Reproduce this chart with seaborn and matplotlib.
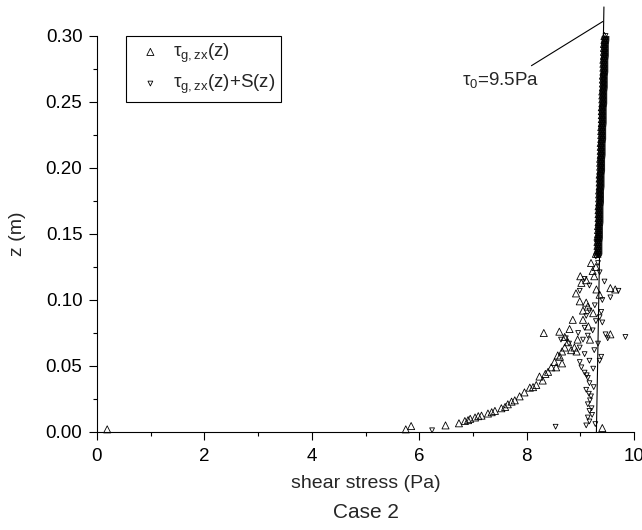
import numpy as np
import pandas as pd
import matplotlib
matplotlib.use("Agg")
import matplotlib.pyplot as plt
import seaborn as sns

# ---- data ----
# tau_g,zx(z): scattered part
up_x = [0.19, 5.75, 5.85, 6.49, 6.74, 6.85, 6.91, 7.04, 7.16, 7.28, 7.41, 7.53, 7.65,
        7.78, 7.87, 7.96, 8.06, 8.18, 8.24, 8.30, 8.40, 8.46, 8.52, 8.62, 8.66, 8.71,
        8.77, 8.32, 8.61, 8.71, 8.83, 8.89, 8.93, 8.66, 8.55, 8.86, 9.05, 8.99, 9.11,
        8.92, 9.02, 9.11, 9.23, 9.29, 9.29, 9.32, 9.05, 9.15, 9.18, 9.24, 9.36, 9.30,
        8.95, 9.56, 9.65, 9.56, 9.41, 6.95, 7.10, 7.35, 7.60, 7.72, 8.12, 8.35, 8.58,
        8.80, 9.00, 9.20, 9.26, 9.14]
up_z = [0.002, 0.002, 0.0045, 0.005, 0.0066, 0.0083, 0.009, 0.011, 0.0124, 0.014, 0.016,
        0.018, 0.021, 0.024, 0.027, 0.030, 0.0336, 0.0356, 0.042, 0.039, 0.0456, 0.049,
        0.053, 0.057, 0.061, 0.064, 0.068, 0.075, 0.076, 0.072, 0.062, 0.064, 0.061,
        0.052, 0.049, 0.085, 0.092, 0.099, 0.098, 0.105, 0.113, 0.115, 0.122, 0.125,
        0.135, 0.148, 0.085, 0.080, 0.070, 0.090, 0.104, 0.108, 0.070, 0.109, 0.108,
        0.074, 0.003, 0.010, 0.012, 0.015, 0.019, 0.023, 0.034, 0.044, 0.058, 0.078,
        0.118, 0.128, 0.118, 0.095]

# tau_g,zx(z)+S(z): scattered part
down_x = [6.24, 8.54, 9.11, 9.17, 9.14, 9.17, 9.14, 9.20, 9.11, 9.17, 9.14, 9.08, 9.24,
          9.02, 9.17, 8.99, 9.36, 9.39, 9.08, 9.26, 9.33, 8.99, 9.05, 9.14, 9.23, 9.51,
          9.84, 9.47, 8.79, 8.73, 8.64, 8.96, 9.08, 9.29, 9.41, 9.11, 9.36, 9.17, 9.39,
          9.27, 9.56, 9.41, 8.99, 9.17, 9.45, 9.71, 9.08, 9.36, 9.33, 9.29, 9.22, 9.18,
          9.25, 9.12, 9.21, 9.16, 9.28]
down_z = [0.0013, 0.004, 0.005, 0.008, 0.011, 0.016, 0.021, 0.027, 0.032, 0.037, 0.041,
          0.045, 0.048, 0.049, 0.054, 0.053, 0.054, 0.057, 0.059, 0.062, 0.067, 0.064,
          0.070, 0.073, 0.077, 0.071, 0.072, 0.074, 0.067, 0.071, 0.070, 0.075, 0.079,
          0.084, 0.083, 0.088, 0.087, 0.092, 0.091, 0.096, 0.102, 0.100, 0.107, 0.111,
          0.114, 0.107, 0.116, 0.121, 0.128, 0.133, 0.013, 0.024, 0.034, 0.043, 0.018,
          0.029, 0.006]

# dense upper part (both series nearly coincide)
band_z = [0.135, 0.138, 0.141, 0.144, 0.147, 0.150, 0.153, 0.156, 0.159, 0.162, 0.165,
          0.168, 0.171, 0.174, 0.177, 0.180, 0.183, 0.186, 0.189, 0.192, 0.195, 0.198,
          0.201, 0.204, 0.207, 0.210, 0.213, 0.216, 0.219, 0.222, 0.225, 0.228, 0.231,
          0.234, 0.237, 0.240, 0.243, 0.246, 0.249, 0.252, 0.255, 0.258, 0.261, 0.264,
          0.267, 0.270, 0.273, 0.276, 0.279, 0.282, 0.285, 0.288, 0.291, 0.294, 0.297,
          0.300]
band_up_x = [9.32, 9.32, 9.32, 9.32, 9.33, 9.33, 9.33, 9.33, 9.34, 9.34, 9.34, 9.34, 9.34,
             9.35, 9.35, 9.35, 9.35, 9.36, 9.36, 9.36, 9.36, 9.37, 9.37, 9.37, 9.37, 9.38,
             9.38, 9.38, 9.38, 9.39, 9.39, 9.39, 9.39, 9.40, 9.40, 9.40, 9.40, 9.40, 9.41,
             9.41, 9.41, 9.41, 9.42, 9.42, 9.42, 9.42, 9.43, 9.43, 9.43, 9.43, 9.44, 9.44,
             9.44, 9.44, 9.45, 9.45]
band_down_x = [9.34, 9.34, 9.34, 9.34, 9.35, 9.35, 9.35, 9.35, 9.36, 9.36, 9.36, 9.36, 9.36,
               9.37, 9.37, 9.37, 9.37, 9.38, 9.38, 9.38, 9.38, 9.39, 9.39, 9.39, 9.39, 9.40,
               9.40, 9.40, 9.40, 9.41, 9.41, 9.41, 9.41, 9.42, 9.42, 9.42, 9.42, 9.42, 9.43,
               9.43, 9.43, 9.43, 9.44, 9.44, 9.44, 9.44, 9.45, 9.45, 9.45, 9.45, 9.46, 9.46,
               9.46, 9.46, 9.47, 9.47]

# tau_0 reference line and annotation
tau0_x = [9.30, 9.44]
tau0_z = [0.0, 0.322]
annot_x = [9.42, 8.09]
annot_z = [0.311, 0.2775]

label_up = r"$\mathregular{\tau_{g,zx}}$(z)"
label_down = r"$\mathregular{\tau_{g,zx}}$(z)+S(z)"

# ---- styling ----
sns.set_theme(style="ticks")
plt.rcParams["font.family"] = ["Liberation Sans", "DejaVu Sans"]
plt.rcParams["mathtext.fontset"] = "custom"
plt.rcParams["mathtext.rm"] = "Liberation Sans"
plt.rcParams["mathtext.it"] = "Liberation Sans:italic"
plt.rcParams["axes.edgecolor"] = "black"
plt.rcParams["xtick.color"] = "black"
plt.rcParams["ytick.color"] = "black"

FS = 13.5

fig = plt.figure(figsize=(6.42, 5.30), dpi=100)
ax = fig.add_axes([97 / 642, 1 - 432 / 530, (634 - 97) / 642, (432 - 36) / 530])

df_up = pd.DataFrame({"x": up_x + band_up_x, "z": up_z + band_z})
df_down = pd.DataFrame({"x": down_x + band_down_x, "z": down_z + band_z})
df_band = pd.DataFrame({"x": band_down_x, "z": band_z})

ax.plot(tau0_x, tau0_z, color="black", lw=0.8, clip_on=False, zorder=1)
ax.plot(annot_x, annot_z, color="black", lw=0.8, clip_on=False, zorder=1)
# dense overlap of markers in the upper part
sns.lineplot(data=df_band, x="x", y="z", ax=ax, sort=False, estimator=None,
             color="#1a1a1a", lw=5.5, zorder=2, legend=False)

sns.scatterplot(data=df_up, x="x", y="z", ax=ax, marker="^", s=26,
                facecolors="none", edgecolor="black", linewidth=0.6,
                label=label_up, clip_on=False, zorder=3)
sns.scatterplot(data=df_down, x="x", y="z", ax=ax, marker="v", s=12,
                facecolors="none", edgecolor="black", linewidth=0.6,
                label=label_down, clip_on=False, zorder=3)

ax.text(6.79, 0.2665, r"$\mathregular{\tau_0}$=9.5Pa", fontsize=FS, va="center", ha="left")

ax.set_xlim(0, 10)
ax.set_ylim(0, 0.30)
ax.set_xticks([0, 2, 4, 6, 8, 10])
ax.set_xticks([1, 3, 5, 7, 9], minor=True)
ax.set_yticks([0.00, 0.05, 0.10, 0.15, 0.20, 0.25, 0.30])
ax.set_yticks([0.025, 0.075, 0.125, 0.175, 0.225, 0.275], minor=True)
ax.set_yticklabels(["0.00", "0.05", "0.10", "0.15", "0.20", "0.25", "0.30"])
ax.tick_params(axis="both", which="major", direction="out", length=5.5, width=0.8,
               labelsize=FS)
ax.tick_params(axis="x", which="major", pad=6)
ax.tick_params(axis="y", which="major", pad=5)
ax.tick_params(axis="both", which="minor", direction="out", length=3, width=0.8)
for s in ["top", "right"]:
    ax.spines[s].set_visible(False)
for s in ["left", "bottom"]:
    ax.spines[s].set_linewidth(0.8)

ax.set_xlabel("shear stress (Pa)", fontsize=14)
ax.set_ylabel("z (m)", fontsize=14)
ax.xaxis.set_label_coords(0.5, -(483 - 432) / 396)
ax.xaxis.label.set_va("center")
ax.yaxis.set_label_coords(-(97 - 17) / 537, 0.5)
ax.yaxis.label.set_va("center")

leg = ax.legend(loc="upper left", bbox_to_anchor=(0.054, 1.0), borderaxespad=0,
                frameon=True, fancybox=False, edgecolor="black", framealpha=1,
                fontsize=FS, handlelength=2.0, handletextpad=0.2,
                labelspacing=0.45, borderpad=0.3)
leg.get_frame().set_linewidth(0.8)

fig.text((97 + 634) / 2 / 642, 1 - 512 / 530, "Case 2", ha="center", va="center",
         fontsize=15)

fig.savefig("out.png", dpi=100)
